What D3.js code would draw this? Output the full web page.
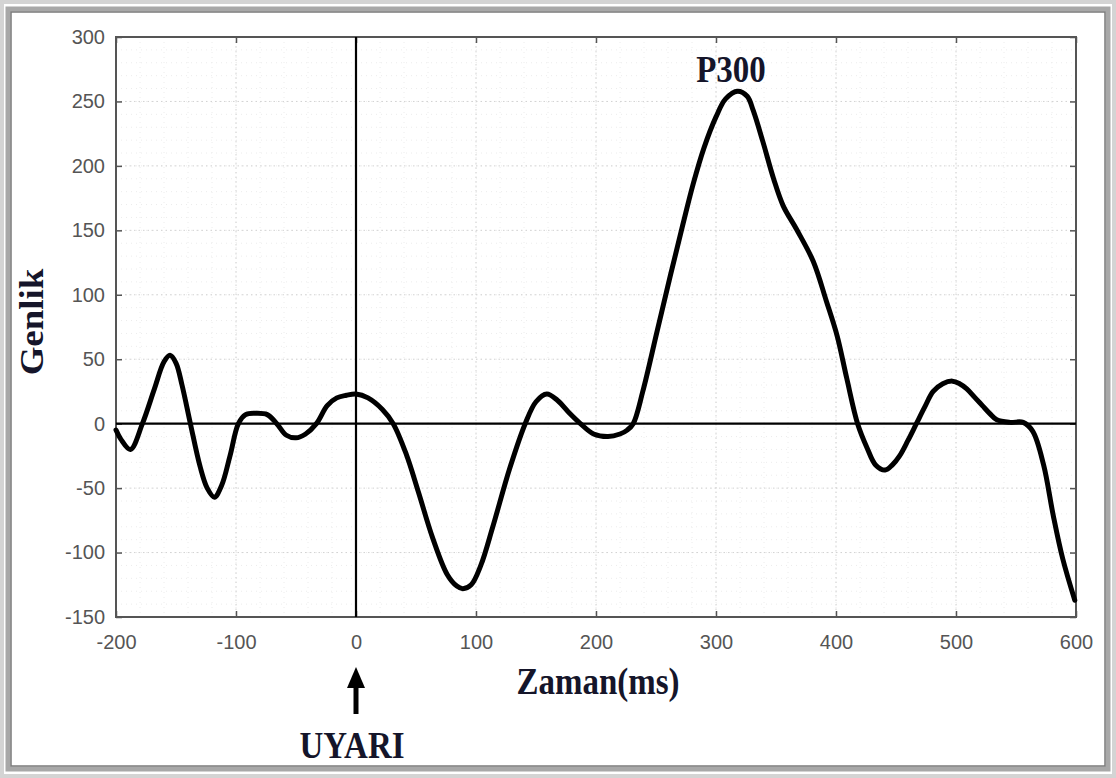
<!DOCTYPE html>
<html>
<head>
<meta charset="utf-8">
<script src="https://cdn.jsdelivr.net/npm/d3@7"></script>
<style>
	body { margin: 0; background: #fff; }
	svg { display: block; }
</style>
</head>
<body>
<div id="chart"></div>
<script>
// time (ms) and amplitude
const zaman = [-200,-196,-188,-178,-168,-160,-155,-150,-145,-138,-130,-124,-118,-112,-105,-98,-92,-84,-74,-66,-58,-50,-42,-33,-24,-16,-8,0,10,22,31,42,52,64,76,84,89,96,104,114,128,141,150,159,168,178,187,198,210,220,226,231,239,251,262,272,281,290,300,308,318,326,331,339,348,356,367,381,392,401,409,418,426,433,441,447,453,460,467,474,481,489,497,503,509,516,522,528,534,545,556,564,573,581,589,599];
const genlik = [-5,-12,-20,0,27,48,53,47,30,0,-33,-50,-57,-48,-25,0,7,8,7,0,-9,-11,-8,0,14,20,22,23,20,11,0,-24,-53,-89,-117,-126,-128,-125,-110,-80,-35,0,17,23,18,8,0,-8,-10,-8,-5,0,25,72,115,153,186,214,238,252,258,254,243,219,190,169,151,126,95,68,35,0,-19,-32,-36,-32,-25,-13,0,13,25,31,33,31,27,20,14,8,3,1,1,-6,-32,-71,-105,-137];

const xTicks = [-200,-100,0,100,200,300,400,500,600];
const yTicks = [-150,-100,-50,0,50,100,150,200,250,300];

const W = 1116, H = 778;
const box = {left: 116, right: 1076, top: 37, bottom: 617};

const svg = d3.select("#chart").append("svg")
	.attr("width", W)
	.attr("height", H);

// outer picture frame (bevel)
svg.append("rect").attr("x", 2).attr("y", 2).attr("width", W - 4).attr("height", H - 4)
	.attr("fill", "none").attr("stroke", "#d4d4d4").attr("stroke-width", 4);
svg.append("rect").attr("x", 8).attr("y", 9).attr("width", W - 16).attr("height", H - 18)
	.attr("fill", "none").attr("stroke", "#a8a8a8").attr("stroke-width", 5);
svg.append("rect").attr("x", 11).attr("y", 12).attr("width", W - 22).attr("height", H - 24)
	.attr("fill", "none").attr("stroke", "#7a7a7a").attr("stroke-width", 1.5);

const x = d3.scaleLinear().domain([-200, 600]).range([box.left, box.right]);
const y = d3.scaleLinear().domain([-150, 300]).range([box.bottom, box.top]);

//minor grid
const g = svg.append("g");
g.selectAll(".minx").data(d3.range(-200, 601, 20)).enter().append("line")
	.attr("x1", d => x(d)).attr("x2", d => x(d))
	.attr("y1", box.top).attr("y2", box.bottom)
	.attr("stroke", "#ececec").attr("stroke-dasharray", "1,4");
g.selectAll(".miny").data(d3.range(-150, 301, 10)).enter().append("line")
	.attr("y1", d => y(d)).attr("y2", d => y(d))
	.attr("x1", box.left).attr("x2", box.right)
	.attr("stroke", "#ececec").attr("stroke-dasharray", "1,4");

//major grid
g.selectAll(".gx").data(xTicks).enter().append("line")
	.attr("x1", d => x(d)).attr("x2", d => x(d))
	.attr("y1", box.top).attr("y2", box.bottom)
	.attr("stroke", "#d2d2d2").attr("stroke-dasharray", "1.5,3");
g.selectAll(".gy").data(yTicks).enter().append("line")
	.attr("y1", d => y(d)).attr("y2", d => y(d))
	.attr("x1", box.left).attr("x2", box.right)
	.attr("stroke", "#d2d2d2").attr("stroke-dasharray", "1.5,3");

// axes, ticks point inward
const plain = d => String(d);   // hyphen minus like the original
function styleAxis(sel) {
	sel.select(".domain").remove();
	sel.selectAll("line").attr("stroke", "#555").attr("stroke-width", 1.5);
	sel.selectAll("text").attr("fill", "#555")
		.style("font-family", "'Liberation Sans', Arial, sans-serif")
		.style("font-size", "20px");
}
svg.append("g").attr("transform", "translate(0," + box.bottom + ")")
	.call(d3.axisBottom(x).tickValues(xTicks).tickFormat(plain).tickSizeInner(-6).tickSizeOuter(0).tickPadding(18))
	.call(styleAxis);
svg.append("g").attr("transform", "translate(0," + box.top + ")")
	.call(d3.axisTop(x).tickValues(xTicks).tickSizeInner(-6).tickSizeOuter(0).tickFormat(""))
	.call(styleAxis);
svg.append("g").attr("transform", "translate(" + box.left + ",0)")
	.call(d3.axisLeft(y).tickValues(yTicks).tickFormat(plain).tickSizeInner(-6).tickSizeOuter(0).tickPadding(11))
	.call(styleAxis);
svg.append("g").attr("transform", "translate(" + box.right + ",0)")
	.call(d3.axisRight(y).tickValues(yTicks).tickSizeInner(-6).tickSizeOuter(0).tickFormat(""))
	.call(styleAxis);

svg.append("rect")
	.attr("x", box.left).attr("y", box.top)
	.attr("width", box.right - box.left).attr("height", box.bottom - box.top)
	.attr("fill", "none").attr("stroke", "#555").attr("stroke-width", 2);

// zero lines
svg.append("line").attr("x1", box.left).attr("x2", box.right)
	.attr("y1", y(0)).attr("y2", y(0)).attr("stroke", "#000").attr("stroke-width", 2.2);
svg.append("line").attr("x1", x(0)).attr("x2", x(0))
	.attr("y1", box.top).attr("y2", box.bottom).attr("stroke", "#000").attr("stroke-width", 2.2);

// ERP curve
const line = d3.line()
	.x((d, i) => x(zaman[i]))
	.y(d => y(d))
	.curve(d3.curveCatmullRom.alpha(0.5));
svg.append("path")
	.datum(genlik)
	.attr("d", line)
	.attr("fill", "none")
	.attr("stroke", "#000")
	.attr("stroke-width", 5)
	.attr("stroke-linejoin", "round")
	.attr("stroke-linecap", "round");

// labels
const serif = "'Liberation Serif', 'Times New Roman', serif";
function bold(txt, cx, cy, rot) {
	return svg.append("text")
		.attr("transform", "translate(" + cx + "," + cy + ")" + (rot ? " rotate(-90)" : "") + (rot ? " scale(1.12,1)" : " scale(1,1.12)"))
		.attr("text-anchor", "middle")
		.attr("fill", "#15152a")
		.style("font-family", serif)
		.style("font-weight", "bold")
		.style("font-size", "33px")
		.text(txt);
}
bold("P300", 731, 82);
bold("Zaman(ms)", 598, 694);
bold("UYARI", 352, 758);
bold("Genlik", 43, 322, true);

// stimulus arrow
svg.append("line").attr("x1", x(0)).attr("x2", x(0)).attr("y1", 684).attr("y2", 714)
	.attr("stroke", "#000").attr("stroke-width", 5);
svg.append("path")
	.attr("d", "M" + x(0) + ",667 L" + (x(0) - 9) + ",688 L" + (x(0) + 9) + ",688 Z")
	.attr("fill", "#000");
</script>
</body>
</html>
